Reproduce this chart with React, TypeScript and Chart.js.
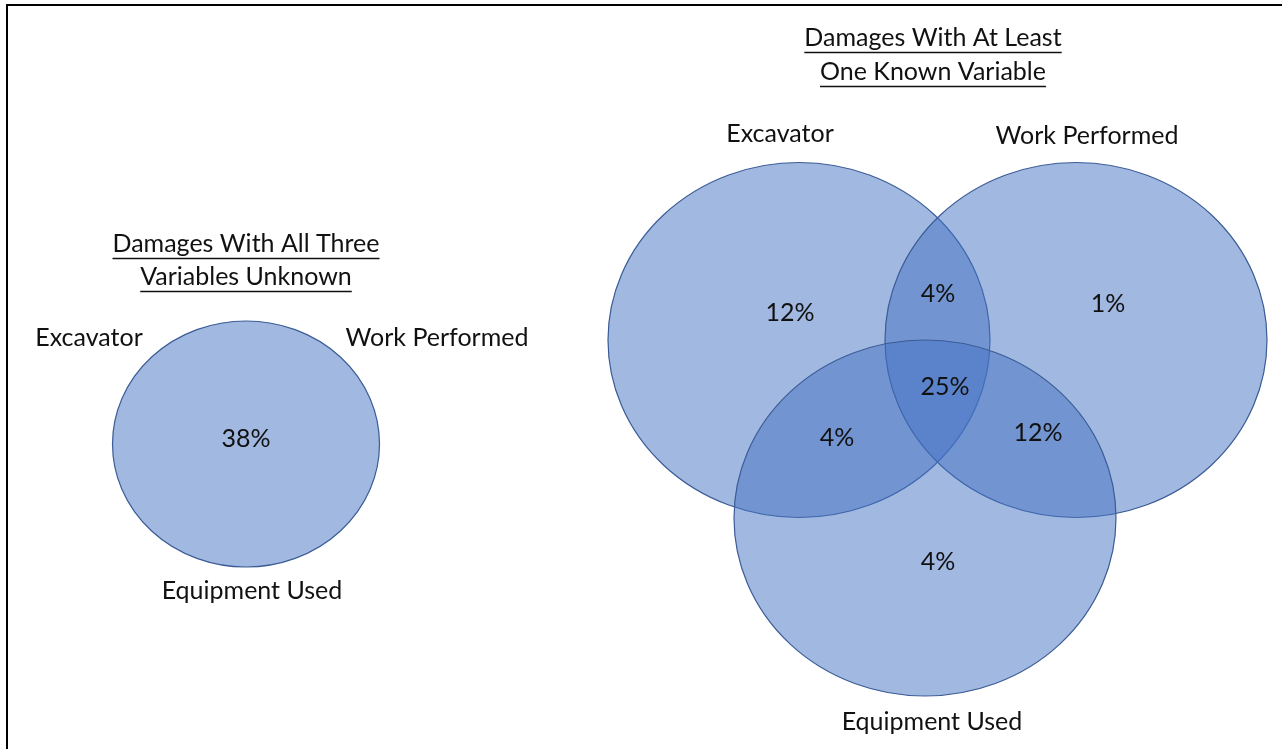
import React, { useEffect, useRef } from "react";
import { Chart, registerables } from "chart.js";

Chart.register(...registerables);

// ---- data ----
const setNames = ["Excavator", "Work Performed", "Equipment Used"];
const unknownTitle = ["Damages With All Three", "Variables Unknown"];
const knownTitle = ["Damages With At Least", "One Known Variable"];
const unknownShare = ["38%"];
const regionNames = [
  "Excavator only",
  "Excavator & Work Performed",
  "Work Performed only",
  "All three",
  "Excavator & Equipment Used",
  "Work Performed & Equipment Used",
  "Equipment Used only",
];
const regionShares = ["12%", "4%", "1%", "25%", "4%", "12%", "4%"];

// ---- layout (drawing space 0..1282 x 0..749) ----
const ellipseCenters = [
  { x: 246, y: 444 },
  { x: 799, y: 340 },
  { x: 1076, y: 340 },
  { x: 925, y: 518 },
];
const ellipseRadii = [
  { rx: 133.5, ry: 123 },
  { rx: 191, ry: 177.5 },
  { rx: 191, ry: 177.5 },
  { rx: 191, ry: 178 },
];
const unknownTitlePos = [
  { x: 246, y: 244 },
  { x: 246, y: 277 },
];
const knownTitlePos = [
  { x: 933, y: 38 },
  { x: 933, y: 72 },
];
const unknownSetPos = [
  { x: 89, y: 338 },
  { x: 437, y: 338 },
  { x: 252, y: 591 },
];
const knownSetPos = [
  { x: 780, y: 134 },
  { x: 1087, y: 136 },
  { x: 932, y: 722 },
];
const unknownSharePos = [{ x: 246, y: 439 }];
const regionPos = [
  { x: 790, y: 313 },
  { x: 938, y: 294 },
  { x: 1108, y: 304 },
  { x: 945, y: 387 },
  { x: 837, y: 438 },
  { x: 1038, y: 433 },
  { x: 938, y: 562 },
];

const FONT_FAMILY = "Lato, 'Open Sans', sans-serif";
const FONT_SIZE = 25;
const FILL = "rgba(68,114,196,0.5)";
const STROKE = "#3B5C96";
const TEXT = "#111111";

const vennPlugin = {
  id: "venn",
  beforeDraw(chart: any) {
    const ctx = chart.ctx;
    const xs = chart.scales.x;
    const ys = chart.scales.y;
    ctx.save();
    ctx.fillStyle = "#ffffff";
    ctx.fillRect(0, 0, chart.width, chart.height);
    ctx.strokeStyle = "#000000";
    ctx.lineWidth = 2;
    ctx.beginPath();
    ctx.moveTo(xs.getPixelForValue(1282), ys.getPixelForValue(5));
    ctx.lineTo(xs.getPixelForValue(7), ys.getPixelForValue(5));
    ctx.lineTo(xs.getPixelForValue(7), ys.getPixelForValue(749));
    ctx.stroke();
    ctx.restore();
  },
  beforeDatasetsDraw(chart: any) {
    const ctx = chart.ctx;
    const xs = chart.scales.x;
    const ys = chart.scales.y;
    ctx.save();
    chart.data.datasets.forEach((ds: any, i: number) => {
      const p = ds.data[0];
      const r = ellipseRadii[i];
      const cx = xs.getPixelForValue(p.x);
      const cy = ys.getPixelForValue(p.y);
      const rx = Math.abs(xs.getPixelForValue(p.x + r.rx) - cx);
      const ry = Math.abs(ys.getPixelForValue(p.y + r.ry) - cy);
      ctx.beginPath();
      ctx.ellipse(cx, cy, rx, ry, 0, 0, Math.PI * 2);
      ctx.fillStyle = FILL;
      ctx.fill();
      ctx.lineWidth = 1.2;
      ctx.strokeStyle = STROKE;
      ctx.stroke();
    });
    ctx.restore();
  },
  afterDatasetsDraw(chart: any) {
    const ctx = chart.ctx;
    const xs = chart.scales.x;
    const ys = chart.scales.y;
    ctx.save();
    ctx.font = `${FONT_SIZE}px ${FONT_FAMILY}`;
    ctx.fillStyle = TEXT;
    ctx.textAlign = "center";
    ctx.textBaseline = "middle";
    const put = (t: string, p: { x: number; y: number }, underline = false) => {
      const x = xs.getPixelForValue(p.x);
      const y = ys.getPixelForValue(p.y);
      ctx.fillText(t, x, y);
      if (underline) {
        const w = ctx.measureText(t).width;
        ctx.beginPath();
        ctx.strokeStyle = TEXT;
        ctx.lineWidth = 1.6;
        ctx.moveTo(x - w / 2, y + 14.5);
        ctx.lineTo(x + w / 2, y + 14.5);
        ctx.stroke();
      }
    };
    unknownTitle.forEach((t, i) => put(t, unknownTitlePos[i], true));
    knownTitle.forEach((t, i) => put(t, knownTitlePos[i], true));
    setNames.forEach((t, i) => put(t, unknownSetPos[i]));
    setNames.forEach((t, i) => put(t, knownSetPos[i]));
    unknownShare.forEach((t, i) => put(t, unknownSharePos[i]));
    regionShares.forEach((t, i) => put(t, regionPos[i]));
    ctx.restore();
  },
};

export default function App() {
  const ref = useRef<HTMLCanvasElement | null>(null);
  useEffect(() => {
    document.body.style.margin = "0";
    if (!ref.current) return;
    const labels = ["Unknown", ...setNames];
    const chart = new Chart(ref.current, {
      type: "scatter",
      data: {
        datasets: ellipseCenters.map((c, i) => ({
          label: labels[i],
          data: [{ x: c.x, y: c.y }],
          pointRadius: 0,
          pointHoverRadius: 0,
        })),
      },
      options: {
        animation: false,
        responsive: true,
        maintainAspectRatio: false,
        layout: { padding: 0 },
        plugins: {
          legend: { display: false },
          tooltip: { enabled: false },
          title: { display: false },
        },
        scales: {
          x: { type: "linear", min: 0, max: 1282, display: false },
          y: { type: "linear", min: 0, max: 749, reverse: true, display: false },
        },
      },
      plugins: [vennPlugin],
    });
    return () => chart.destroy();
  }, []);
  return (
    <div style={{ position: "absolute", left: 0, top: 0, width: 1282, height: 749 }}>
      <canvas ref={ref} />
    </div>
  );
}
